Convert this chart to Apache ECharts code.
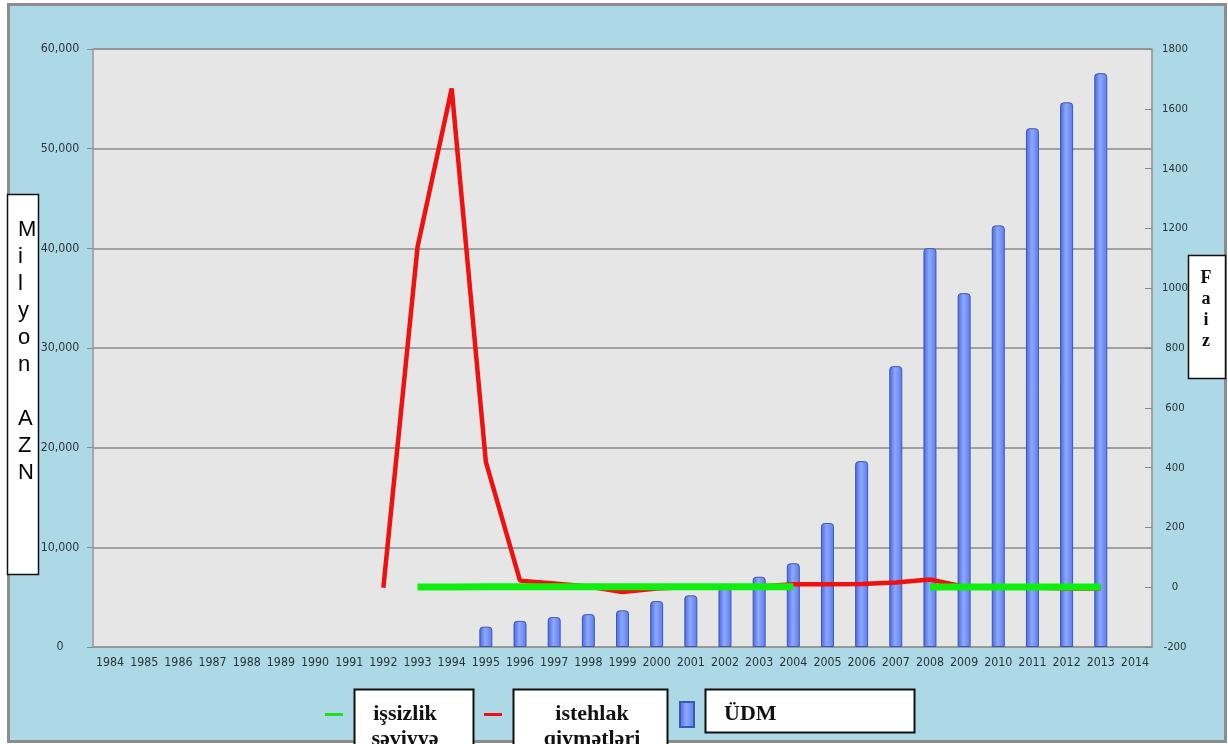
<!DOCTYPE html>
<html>
<head>
<meta charset="utf-8">
<script src="https://cdn.jsdelivr.net/npm/echarts@6/dist/echarts.min.js"></script>
<style>
html,body{margin:0;padding:0;background:#fff;}
#chart{width:1228px;height:744px;}
</style>
</head>
<body>
<div id="chart"></div>
<script>
// ---- data ----
const years = ['1984','1985','1986','1987','1988','1989','1990','1991','1992','1993','1994','1995','1996','1997','1998','1999','2000','2001','2002','2003','2004','2005','2006','2007','2008','2009','2010','2011','2012','2013','2014'];
// ÜDM, million AZN (left axis)
const gdp = [null,null,null,null,null,null,null,null,null,null,null,2040,2620,3000,3300,3680,4610,5180,6000,7050,8400,12440,18650,28180,40020,35500,42300,52050,54650,57570,null];
// istehlak qiymətləri, % (right axis)
const cpi = [null,null,null,null,null,null,null,null,-2,1138,1668,419,22,12,2,-16,-4,1,2,2,10,10,11,16,26,2,2,-1,-4,-4,null];
// işsizlik səviyyəsi, % (right axis)
const unemp = [null,null,null,null,null,null,null,null,null,0.7,0.9,1.1,1.1,1.2,1.2,1.2,1.3,1.3,1.4,1.4,1.4,null,null,null,1.0,1.0,1.0,1.0,1.0,1.0,null];
const leftTicks = {min:0, max:60000, interval:10000};
const rightTicks = {min:-200, max:1800, interval:200};
const names = ['işsizlik səviyyəsi','istehlak qiymətləri','ÜDM'];

const axisFont = '"DejaVu Sans Condensed","Liberation Sans",sans-serif';
const serif = '"Liberation Serif","DejaVu Serif",serif';

const chart = echarts.init(document.getElementById('chart'), null, {renderer:'canvas'});
const legendRich = {a:{fontFamily:serif, fontWeight:'bold', fontSize:22, lineHeight:25, color:'#111', align:'center'}};
const legendRich3 = {a:{fontFamily:serif, fontWeight:'bold', fontSize:22, lineHeight:25, color:'#111', align:'left'}};

chart.setOption({
  backgroundColor:'#ffffff',
  animation:false,
  grid:{left:93, right:76, top:49, bottom:97, show:true, backgroundColor:'#e6e6e6', borderColor:'#a0a0a0', borderWidth:1},
  xAxis:{
    type:'category', data:years, boundaryGap:true,
    axisLine:{lineStyle:{color:'#999', width:1.5}},
    axisTick:{alignWithLabel:true, length:8, lineStyle:{color:'#888'}},
    axisLabel:{interval:0, margin:10, fontFamily:axisFont, fontSize:12.3, color:'#2a3538'},
    splitLine:{show:false}
  },
  yAxis:[
    {type:'value', position:'left', min:leftTicks.min, max:leftTicks.max, interval:leftTicks.interval,
     axisLine:{show:true, lineStyle:{color:'#a0a0a0', width:1.5}},
     axisTick:{show:true, length:6, lineStyle:{color:'#888'}},
     axisLabel:{align:'center', margin:33, fontFamily:axisFont, fontSize:12.3, color:'#2a3538',
       formatter:v=>v.toLocaleString('en-US')},
     splitLine:{show:true, lineStyle:{color:'#8a8a8a', width:1.5}}},
    {type:'value', position:'right', min:rightTicks.min, max:rightTicks.max, interval:rightTicks.interval,
     axisLine:{show:true, lineStyle:{color:'#999', width:1.5}},
     axisTick:{show:true, inside:true, length:7, lineStyle:{color:'#888'}},
     axisLabel:{align:'center', margin:23, fontFamily:axisFont, fontSize:11.3, color:'#2a3538',
       formatter:v=>String(v)},
     splitLine:{show:false}}
  ],
  legend:[
    {data:[{name:names[0], icon:'path://M0,0H18V3H0Z'}], left:325, top:703, padding:0, itemWidth:18, itemHeight:25, selectedMode:false,
     formatter:()=> '{a|işsizlik}\n{a|səviyyə}', textStyle:{width:114, padding:[24,0,0,0], rich:legendRich}},
    {data:[{name:names[1], icon:'path://M0,0H18V3H0Z'}], left:484, top:703, padding:0, itemWidth:18, itemHeight:25, selectedMode:false,
     formatter:()=> '{a|istehlak}\n{a|qiymətləri}', textStyle:{width:170, padding:[24,0,0,0], rich:legendRich}},
    {data:[{name:names[2], icon:'path://M0,0H14V25H0Z'}], left:679, top:701, padding:0, itemWidth:18, itemHeight:25, selectedMode:false,
     formatter:()=> '{a|ÜDM}', textStyle:{width:190, padding:[0,0,0,23], rich:legendRich3}}
  ],
  graphic:{elements:[
    {type:'rect', z:-10, shape:{x:8.5, y:4.5, width:1217, height:737}, style:{fill:'#add8e6', stroke:'#8c8c8c', lineWidth:3}},
    // left axis title box
    {type:'rect', z:5, shape:{x:7.5, y:194.5, width:31, height:380}, style:{fill:'#ffffff', stroke:'#111', lineWidth:1.5}},
    {type:'text', z:6, style:{x:18, y:216, text:'M\ni\nl\ny\no\nn\n\nA\nZ\nN', font:'22px "Liberation Sans",Arial,sans-serif', lineHeight:27, fill:'#000', align:'left', verticalAlign:'top'}},
    // right axis title box
    {type:'rect', z:5, shape:{x:1188.5, y:255.5, width:37, height:123}, style:{fill:'#ffffff', stroke:'#111', lineWidth:1.5}},
    {type:'text', z:6, style:{x:1206, y:268, text:'F\na\ni\nz', font:'bold 18px "Liberation Serif",serif', lineHeight:21, fill:'#111', align:'center', verticalAlign:'top'}},
    // legend boxes
    {type:'rect', z:3, shape:{x:354.5, y:689.5, width:119, height:70}, style:{fill:'#ffffff', stroke:'#111', lineWidth:2}},
    {type:'rect', z:3, shape:{x:513.5, y:689.5, width:154, height:70}, style:{fill:'#ffffff', stroke:'#111', lineWidth:2}},
    {type:'rect', z:3, shape:{x:705.5, y:689.5, width:209, height:43}, style:{fill:'#ffffff', stroke:'#111', lineWidth:2}}
  ]},
  series:[
    {name:names[2], type:'bar', yAxisIndex:0, data:gdp, barWidth:13, z:2,
     itemStyle:{borderColor:'#4058a8', borderWidth:1, borderRadius:[3,3,0,0],
       color:{type:'linear', x:0, y:0, x2:1, y2:0, colorStops:[{offset:0,color:'#4466e0'},{offset:0.45,color:'#8ea8ff'},{offset:1,color:'#587aee'}]}}},
    {name:names[1], type:'line', yAxisIndex:1, data:cpi, symbol:'none', z:3, connectNulls:false,
     lineStyle:{color:'#f01010', width:4.5}, itemStyle:{color:'#f01010'}},
    {name:names[0], type:'line', yAxisIndex:1, data:unemp, symbol:'none', z:4, connectNulls:false,
     lineStyle:{color:'#10ee10', width:7}, itemStyle:{color:'#22dd22'}}
  ]
});
</script>
</body>
</html>
